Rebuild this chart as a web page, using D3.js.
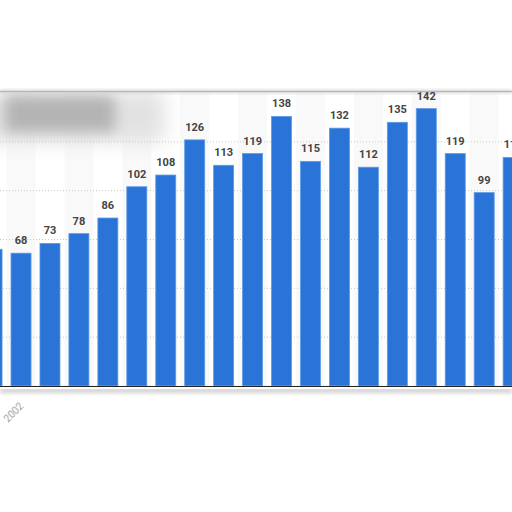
<!DOCTYPE html>
<html><head><meta charset="utf-8">
<script src="https://cdn.jsdelivr.net/npm/d3@7"></script>
<style>body{margin:0;background:#fff}svg{display:block}</style>
</head><body>
<script>
const years = ["2001","2002","2003","2004","2005","2006","2007","2008","2009","2010","2011","2012","2013","2014","2015","2016","2017","2018","2019"];
const values = [70,68,73,78,86,102,108,126,113,119,138,115,132,112,135,142,119,99,117];
const gridTicks = [25,50,75,100,125];
const visibleYearLabels = ["2002"];

const W=512,H=512;
const svg=d3.select("body").append("svg").attr("width",W).attr("height",H);
const defs=svg.append("defs");
function blur(id,s){defs.append("filter").attr("id",id).attr("x","-50%").attr("y","-50%").attr("width","200%").attr("height","200%")
  .append("feGaussianBlur").attr("stdDeviation",s);}
blur("blur10",10);blur("blur7",7);blur("blur2",2);blur("blur1",0.6);

const x=d3.scaleBand().domain(years).range([-22.4,527.6]).paddingInner(0.309).paddingOuter(0.1545);
const y=d3.scaleLinear().domain([0,150]).range([386,93]);

// alternating column shading
svg.append("g").selectAll("rect").data(years.filter((d,i)=>i%2===1)).join("rect")
  .attr("x",d=>x(d)-x.step()*x.paddingInner()/2).attr("width",x.step())
  .attr("y",y(150)).attr("height",y(0)-y(150)).attr("fill","#f9f9f9");

// blurred title area
const tg=svg.append("g");
tg.append("rect").attr("x",-20).attr("y",92).attr("width",185).attr("height",50).attr("fill","#e2e2e2").attr("filter","url(#blur10)");
tg.append("rect").attr("x",5).attr("y",96).attr("width",110).attr("height",36).attr("fill","#b4b4b4").attr("filter","url(#blur7)");

// gridlines
svg.append("g").selectAll("line").data(gridTicks).join("line")
  .attr("x1",0).attr("x2",W).attr("y1",d=>y(d)).attr("y2",d=>y(d))
  .attr("stroke","#c8c8c8").attr("stroke-width",1).attr("stroke-dasharray","1,2");

// white above the plot, top border with shadow
svg.append("rect").attr("x",0).attr("y",0).attr("width",W).attr("height",y(150)-2).attr("fill","#fff");
svg.append("rect").attr("x",0).attr("y",y(150)-3).attr("width",W).attr("height",3).attr("fill","#d4d4d4").attr("filter","url(#blur2)");
svg.append("line").attr("x1",0).attr("x2",W).attr("y1",y(150)-1.5).attr("y2",y(150)-1.5).attr("stroke","#b8b8b8").attr("stroke-width",1.5);

// bars
svg.append("g").selectAll("rect").data(values).join("rect")
  .attr("x",(d,i)=>x(years[i])).attr("width",x.bandwidth())
  .attr("y",d=>y(d)).attr("height",d=>y(0)-y(d))
  .attr("fill","#2a74d8").attr("stroke","#5b9be6").attr("stroke-width",0.8);

// value labels
svg.append("g").selectAll("text").data(values).join("text")
  .attr("x",(d,i)=>x(years[i])+x.bandwidth()/2).attr("y",d=>y(d)-9)
  .attr("text-anchor","middle").attr("font-family","Roboto, sans-serif").attr("font-weight","bold")
  .attr("font-size",11).attr("fill","#444").text(d=>d);

// shadow below baseline
svg.append("rect").attr("x",0).attr("y",y(0)+2).attr("width",W).attr("height",5).attr("fill","#cfcfcf").attr("filter","url(#blur2)");
svg.append("rect").attr("x",0).attr("y",y(0)).attr("width",W).attr("height",3).attr("fill","#fff");
// baseline axis
const xAxis=d3.axisBottom(x).tickSize(0).tickFormat(d=>visibleYearLabels.includes(d)?d:"");
const ax=svg.append("g").attr("transform",`translate(0,${y(0)})`).call(xAxis);
ax.select(".domain").attr("stroke","#222").attr("stroke-width",1.2);
ax.selectAll("text").attr("font-family","Roboto, sans-serif").attr("font-size",10).attr("fill","#9a9a9a")
  .attr("text-anchor","end").attr("transform","translate(1,19) rotate(-45)").attr("dx",0).attr("dy",0)
  .attr("filter","url(#blur1)");
</script>
</body></html>
